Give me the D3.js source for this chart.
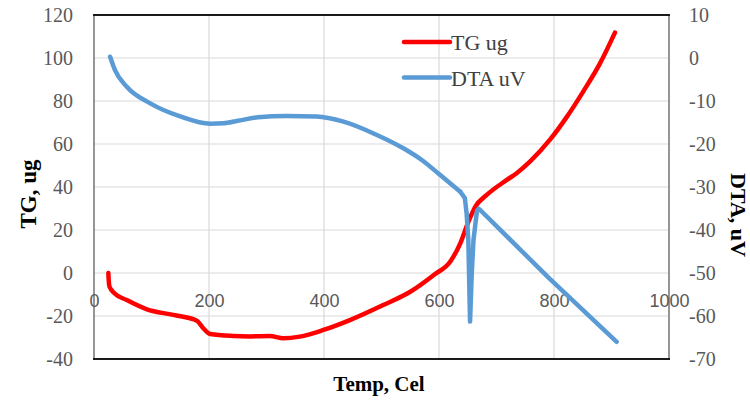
<!DOCTYPE html>
<html>
<head>
<meta charset="utf-8">
<script src="https://cdn.jsdelivr.net/npm/d3@7"></script>
<style>
  html, body { margin: 0; padding: 0; background: #fff; }
  svg { display: block; }
</style>
</head>
<body>
<svg id="chart" width="750" height="402"></svg>
<script>
// ---- data ----
const tgSeries = [
  [25, 0], [25.5, -3], [27, -6.4], [36, -9.5], [57, -12.6], [92, -16.9], [138, -19.5],
  [179, -22.2], [190, -25.7], [202, -28.4], [242, -29.3], [271, -29.5], [306, -29.3],
  [329, -30.4], [358, -29.6], [399, -26.5], [445, -21.9], [503, -14.9], [550, -8.7],
  [591, -0.9], [620, 5.5], [637, 13.8], [650, 23.1], [663, 30.8], [683, 36.3], [718, 43.3],
  [735, 46.4], [759, 52], [793, 62], [822, 72.5], [851, 84.5], [880, 97.5], [906, 111.8]
];
// smooth part of the DTA trace, then the spike and the straight descent
const dtaSeries = [
  [28, 0.3], [36.5, -2.8], [57, -6.7], [97, -10.5], [150, -13.6], [202, -15.3], [225, -15.2],
  [250, -14.6], [285, -13.8], [335, -13.5], [387, -13.6], [434, -14.8], [492, -17.9],
  [538, -21], [573, -24], [600, -27], [637, -31.1], [645, -32.6], [648, -36.1], [651, -42.3],
  [654, -61.3], [657, -50], [660, -42.3], [666, -35.6], [669, -35], [790, -51], [909, -66]
];
const dtaSmoothEnd = 16; // index of [637, -31.1]
const xTicks = [0, 200, 400, 600, 800, 1000];
const yLeftTicks = [-40, -20, 0, 20, 40, 60, 80, 100, 120];
const yRightTicks = [-70, -60, -50, -40, -30, -20, -10, 0, 10];
const seriesNames = ["TG ug", "DTA uV"];
const xTitle = "Temp, Cel";
const yLeftTitle = "TG, ug";
const yRightTitle = "DTA, uV";

// ---- layout ----
const L = 94, R = 669, T = 15, B = 359;
const svg = d3.select("#chart");
const x = d3.scaleLinear().domain([0, 1000]).range([L, R]);
const yL = d3.scaleLinear().domain([-40, 120]).range([B, T]);
const yR = d3.scaleLinear().domain([-70, 10]).range([B, T]);

const serif = "Liberation Serif, Times New Roman, serif";
const sans = "Liberation Sans, Arial, sans-serif";
const plain = d => String(d);

// gridlines
const grid = svg.append("g");
grid.selectAll("line.h").data(yLeftTicks).join("line")
  .attr("x1", L).attr("x2", R)
  .attr("y1", d => yL(d)).attr("y2", d => yL(d))
  .attr("stroke", "#d9d9d9").attr("stroke-width", 1.2);
grid.selectAll("line.v").data(xTicks).join("line")
  .attr("x1", d => x(d)).attr("x2", d => x(d))
  .attr("y1", T).attr("y2", B)
  .attr("stroke", "#d9d9d9").attr("stroke-width", 1.2);

// frame
svg.append("line").attr("x1", L).attr("x2", L).attr("y1", T).attr("y2", B)
  .attr("stroke", "#808080").attr("stroke-width", 1.6);
svg.append("line").attr("x1", R).attr("x2", R).attr("y1", T).attr("y2", B)
  .attr("stroke", "#808080").attr("stroke-width", 1.6);
svg.append("line").attr("x1", L - 1).attr("x2", R + 1).attr("y1", T).attr("y2", T)
  .attr("stroke", "#1a1a1a").attr("stroke-width", 2);
svg.append("line").attr("x1", L - 1).attr("x2", R + 1).attr("y1", B).attr("y2", B)
  .attr("stroke", "#1a1a1a").attr("stroke-width", 2);

// x axis labels (axis crosses at TG = 0)
const xAxis = d3.axisBottom(x).tickValues(xTicks).tickSize(0).tickFormat(plain);
const gx = svg.append("g").attr("transform", `translate(0,${yL(0)})`).call(xAxis)
  .attr("font-family", sans).attr("font-size", 18);
gx.select(".domain").remove();
gx.selectAll("text")
  .attr("y", 34).attr("dy", 0)
  .attr("fill", "#595959");

// left y axis labels
const yAxisL = d3.axisLeft(yL).tickValues(yLeftTicks).tickSize(0).tickPadding(0).tickFormat(plain);
const gyl = svg.append("g").attr("transform", `translate(73,0)`).call(yAxisL)
  .attr("font-family", serif).attr("font-size", 20);
gyl.select(".domain").remove();
gyl.selectAll("text").attr("x", 0).attr("dy", "0.34em").attr("fill", "#595959");

// right y axis labels
const yAxisR = d3.axisRight(yR).tickValues(yRightTicks).tickSize(0).tickPadding(0).tickFormat(plain);
const gyr = svg.append("g").attr("transform", `translate(689,0)`).call(yAxisR)
  .attr("font-family", serif).attr("font-size", 20);
gyr.select(".domain").remove();
gyr.selectAll("text").attr("x", 0).attr("dy", "0.34em").attr("fill", "#595959");

// lines
const lineTG = d3.line().x(d => x(d[0])).y(d => yL(d[1])).curve(d3.curveMonotoneX);
const lineDTAsmooth = d3.line().x(d => x(d[0])).y(d => yR(d[1])).curve(d3.curveMonotoneX);
const lineDTAsharp = d3.line().x(d => x(d[0])).y(d => yR(d[1])).curve(d3.curveLinear);
svg.append("path").datum(tgSeries).attr("d", lineTG)
  .attr("fill", "none").attr("stroke", "#ff0000").attr("stroke-width", 4.5)
  .attr("stroke-linecap", "round").attr("stroke-linejoin", "round");
const dtaG = svg.append("g").attr("fill", "none").attr("stroke", "#5b9bd5")
  .attr("stroke-width", 4.5).attr("stroke-linecap", "round").attr("stroke-linejoin", "round");
dtaG.append("path").datum(dtaSeries.slice(0, dtaSmoothEnd + 1)).attr("d", lineDTAsmooth);
dtaG.append("path").datum(dtaSeries.slice(dtaSmoothEnd)).attr("d", lineDTAsharp);

// legend
const legendColors = ["#ff0000", "#5b9bd5"];
const legendY = [42, 77.5];
const lg = svg.append("g").attr("font-family", serif).attr("font-size", 22);
seriesNames.forEach((name, i) => {
  lg.append("line").attr("x1", 404).attr("x2", 450)
    .attr("y1", legendY[i]).attr("y2", legendY[i])
    .attr("stroke", legendColors[i]).attr("stroke-width", 4.5).attr("stroke-linecap", "round");
  lg.append("text").attr("x", 451).attr("y", legendY[i] + 8)
    .attr("fill", "#404040")
    .text(name);
});

// axis titles
const titles = svg.append("g").attr("font-family", serif).attr("font-weight", "bold").attr("fill", "#000");
titles.append("text").attr("x", 379).attr("y", 391).attr("text-anchor", "middle")
  .attr("font-size", 21).text(xTitle);
titles.append("text").attr("transform", "translate(36,194) rotate(-90)").attr("text-anchor", "middle")
  .attr("font-size", 23).text(yLeftTitle);
titles.append("text").attr("transform", "translate(731,215) rotate(90)").attr("text-anchor", "middle")
  .attr("font-size", 22).text(yRightTitle);
</script>
</body>
</html>
